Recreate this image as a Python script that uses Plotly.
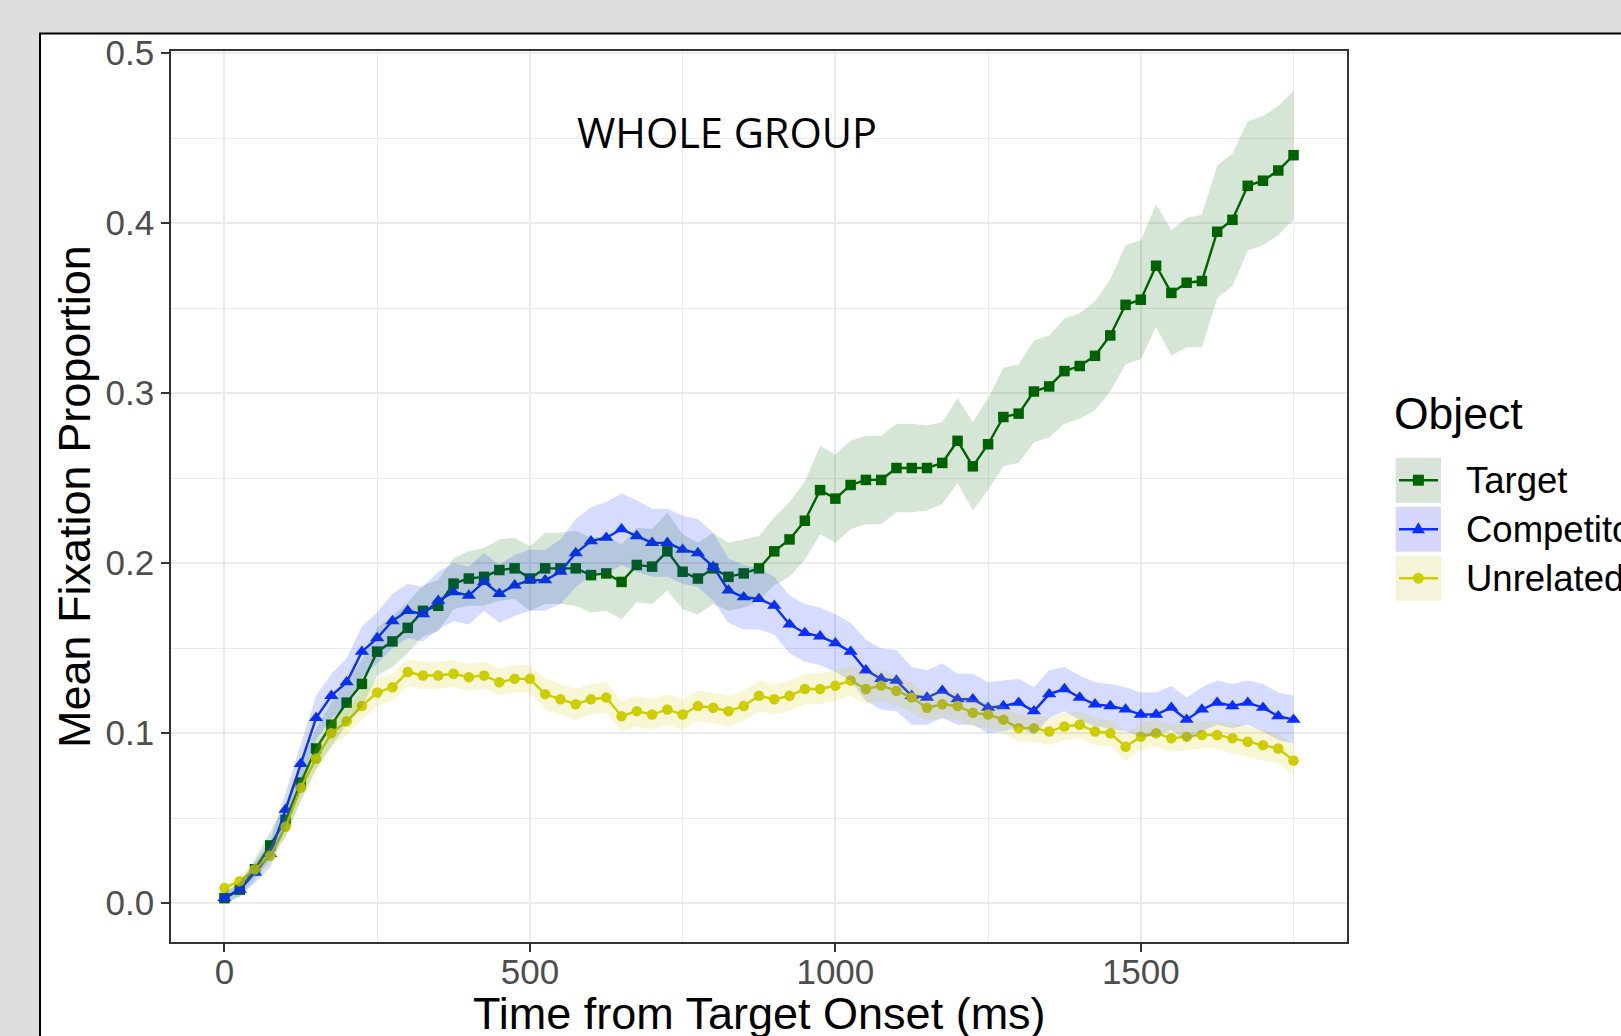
import plotly.graph_objects as go

# ---------------- data ----------------
time_ms = list(range(0, 1751, 25))

target_mean = [0.003, 0.008, 0.020, 0.034, 0.049, 0.071, 0.091, 0.105, 0.118, 0.129,
               0.148, 0.154, 0.162, 0.172, 0.175, 0.188, 0.191, 0.192, 0.196, 0.197,
               0.191, 0.197, 0.197, 0.197, 0.193, 0.194, 0.189, 0.199, 0.198, 0.207,
               0.195, 0.191, 0.197, 0.192, 0.194, 0.197, 0.207, 0.214, 0.225, 0.243,
               0.238, 0.246, 0.249, 0.249, 0.256, 0.256, 0.256, 0.259, 0.272, 0.257,
               0.270, 0.286, 0.288, 0.301, 0.304, 0.313, 0.316, 0.322, 0.334, 0.352,
               0.355, 0.375, 0.359, 0.365, 0.366, 0.395, 0.402, 0.422, 0.425, 0.431,
               0.440]
target_se = [0.003, 0.004, 0.006, 0.008, 0.010, 0.011, 0.012, 0.013, 0.013, 0.014,
             0.014, 0.015, 0.015, 0.015, 0.015, 0.015, 0.016, 0.017, 0.018, 0.018,
             0.019, 0.021, 0.021, 0.022, 0.022, 0.022, 0.022, 0.022, 0.022, 0.023,
             0.022, 0.021, 0.021, 0.020, 0.020, 0.019, 0.020, 0.022, 0.023, 0.026,
             0.026, 0.026, 0.026, 0.026, 0.026, 0.026, 0.025, 0.024, 0.025, 0.026,
             0.027, 0.029, 0.029, 0.030, 0.030, 0.031, 0.031, 0.032, 0.033, 0.035,
             0.035, 0.036, 0.037, 0.038, 0.039, 0.039, 0.039, 0.038, 0.038, 0.038,
             0.038]

competitor_mean = [0.003, 0.008, 0.018, 0.029, 0.055, 0.082, 0.109, 0.122, 0.130, 0.148,
                   0.156, 0.166, 0.172, 0.170, 0.178, 0.183, 0.181, 0.189, 0.182, 0.187,
                   0.190, 0.190, 0.195, 0.206, 0.213, 0.215, 0.220, 0.216, 0.212, 0.212,
                   0.208, 0.206, 0.198, 0.184, 0.180, 0.179, 0.175, 0.164, 0.159, 0.157,
                   0.153, 0.148, 0.137, 0.132, 0.131, 0.122, 0.121, 0.125, 0.120, 0.120,
                   0.115, 0.116, 0.118, 0.113, 0.123, 0.126, 0.121, 0.117, 0.116, 0.114,
                   0.111, 0.111, 0.115, 0.108, 0.114, 0.118, 0.116, 0.118, 0.115, 0.110,
                   0.108]
competitor_se = [0.003, 0.004, 0.006, 0.008, 0.010, 0.012, 0.013, 0.013, 0.014, 0.015,
                 0.015, 0.016, 0.016, 0.016, 0.017, 0.017, 0.017, 0.017, 0.017, 0.018,
                 0.018, 0.018, 0.019, 0.020, 0.020, 0.021, 0.021, 0.021, 0.020, 0.020,
                 0.020, 0.020, 0.020, 0.019, 0.019, 0.018, 0.017, 0.017, 0.017, 0.017,
                 0.017, 0.017, 0.018, 0.018, 0.018, 0.017, 0.016, 0.016, 0.015, 0.015,
                 0.015, 0.015, 0.014, 0.014, 0.014, 0.013, 0.013, 0.013, 0.013, 0.013,
                 0.013, 0.013, 0.013, 0.013, 0.013, 0.013, 0.013, 0.013, 0.014, 0.014,
                 0.014]

unrelated_mean = [0.009, 0.013, 0.020, 0.028, 0.045, 0.068, 0.085, 0.100, 0.107, 0.116,
                  0.124, 0.127, 0.136, 0.134, 0.134, 0.135, 0.133, 0.134, 0.130, 0.132,
                  0.132, 0.123, 0.120, 0.117, 0.120, 0.121, 0.110, 0.113, 0.111, 0.114,
                  0.111, 0.116, 0.115, 0.113, 0.116, 0.122, 0.120, 0.122, 0.126, 0.126,
                  0.128, 0.131, 0.126, 0.128, 0.125, 0.121, 0.115, 0.117, 0.116, 0.112,
                  0.111, 0.108, 0.103, 0.103, 0.101, 0.104, 0.105, 0.101, 0.100, 0.092,
                  0.098, 0.100, 0.097, 0.098, 0.099, 0.099, 0.097, 0.095, 0.093, 0.091,
                  0.084]
unrelated_se = [0.002, 0.003, 0.004, 0.005, 0.006, 0.007, 0.007, 0.008, 0.008, 0.008,
                0.008, 0.008, 0.008, 0.008, 0.008, 0.008, 0.008, 0.008, 0.008, 0.008,
                0.008, 0.009, 0.009, 0.009, 0.009, 0.009, 0.009, 0.009, 0.009, 0.009,
                0.009, 0.009, 0.009, 0.009, 0.009, 0.009, 0.009, 0.009, 0.009, 0.009,
                0.009, 0.009, 0.009, 0.009, 0.009, 0.009, 0.008, 0.008, 0.008, 0.008,
                0.008, 0.008, 0.008, 0.008, 0.008, 0.008, 0.008, 0.008, 0.008, 0.008,
                0.008, 0.008, 0.008, 0.008, 0.008, 0.008, 0.009, 0.009, 0.009, 0.009,
                0.009]

series_names = ["Target", "Competitor", "Unrelated"]
x_tick_vals = [0, 500, 1000, 1500]
y_tick_vals = [0.0, 0.1, 0.2, 0.3, 0.4, 0.5]
chart_label = "WHOLE GROUP"
x_title = "Time from Target Onset (ms)"
y_title = "Mean Fixation Proportion"
legend_title = "Object"

# ---------------- styling ----------------
colors = {"Target": "#006400", "Competitor": "#0a2eff", "Unrelated": "#cdcd00"}
fills = {"Target": "rgba(0,100,0,0.16)", "Competitor": "rgba(10,46,255,0.17)",
         "Unrelated": "rgba(205,205,0,0.16)"}
key_fills = {"Target": "#d7e4d7", "Competitor": "#d5d8fc", "Unrelated": "#f4f4d8"}
symbols = {"Target": "square", "Competitor": "triangle-up", "Unrelated": "circle"}
sizes = {"Target": 10.5, "Competitor": 12.5, "Unrelated": 10.5}
means = {"Target": target_mean, "Competitor": competitor_mean, "Unrelated": unrelated_mean}
ses = {"Target": target_se, "Competitor": competitor_se, "Unrelated": unrelated_se}

FONT = "Liberation Sans, Arial, sans-serif"

fig = go.Figure()

# lines + points
for name in series_names:
    fig.add_trace(go.Scatter(
        x=time_ms, y=means[name], mode="lines+markers", name=name,
        line=dict(color=colors[name], width=2.4),
        marker=dict(symbol=symbols[name], size=sizes[name], color=colors[name],
                    line=dict(width=0)),
        showlegend=False, hoverinfo="x+y+name"))

# ribbons (drawn on top, semi-transparent)
for name in series_names:
    m, s = means[name], ses[name]
    upper = [a + b for a, b in zip(m, s)]
    lower = [a - b for a, b in zip(m, s)]
    fig.add_trace(go.Scatter(
        x=time_ms + time_ms[::-1], y=upper + lower[::-1],
        mode="lines", fill="toself", fillcolor=fills[name],
        line=dict(width=0, color=fills[name]), showlegend=False, hoverinfo="skip"))

# ---------------- layout geometry ----------------
W, H = 1621, 1036
L, R, T, B = 171, 274, 51, 94
pw, ph = W - L - R, H - T - B


def px_x(px):
    return (px - L) / pw


def px_y(py):
    return (H - B - py) / ph


shapes = []
# white panel with black border over a grey background
shapes.append(dict(type="rect", xref="paper", yref="paper",
                   x0=px_x(40), x1=px_x(1700), y0=px_y(1100), y1=px_y(33.5),
                   fillcolor="white", line=dict(color="black", width=2), layer="below"))

annotations = []
annotations.append(dict(text=chart_label, x=822, y=0.4534, xref="x", yref="y",
                        showarrow=False, font=dict(family="Open Sans, sans-serif", size=41.5,
                                                   color="black")))
annotations.append(dict(text=x_title, x=0.5, y=px_y(1013), xref="paper", yref="paper",
                        showarrow=False, yanchor="middle",
                        font=dict(family=FONT, size=45, color="black")))
annotations.append(dict(text=y_title, x=px_x(74.5), y=0.5, xref="paper", yref="paper",
                        showarrow=False, textangle=-90, xanchor="center",
                        font=dict(family=FONT, size=45, color="black")))
annotations.append(dict(text=legend_title, x=px_x(1392), y=px_y(413), xref="paper",
                        yref="paper", showarrow=False, xanchor="left", yanchor="middle",
                        font=dict(family=FONT, size=44.5, color="black")))

# manual legend with ribbon-coloured key boxes
row_top = [457.7, 506.7, 555.7]
for i, name in enumerate(series_names):
    y0p, y1p = row_top[i], row_top[i] + 45
    cy = (y0p + y1p) / 2
    shapes.append(dict(type="rect", xref="paper", yref="paper",
                       x0=px_x(1395.7), x1=px_x(1441), y0=px_y(y1p), y1=px_y(y0p),
                       fillcolor=key_fills[name], line=dict(width=0), layer="above"))
    shapes.append(dict(type="line", xref="paper", yref="paper",
                       x0=px_x(1399), x1=px_x(1438), y0=px_y(cy), y1=px_y(cy),
                       line=dict(color=colors[name], width=2.4), layer="above"))
    cx = px_x(1418.4)
    cyp = px_y(cy)
    if name == "Target":
        shapes.append(dict(type="rect", xref="paper", yref="paper", xsizemode="pixel",
                           ysizemode="pixel", xanchor=cx, yanchor=cyp, x0=-5.5, x1=5.5,
                           y0=-5.5, y1=5.5, fillcolor=colors[name], line=dict(width=0),
                           layer="above"))
    elif name == "Competitor":
        shapes.append(dict(type="path", xref="paper", yref="paper", xsizemode="pixel",
                           ysizemode="pixel", xanchor=cx, yanchor=cyp,
                           path="M -6.5 -4 L 6.5 -4 L 0 7 Z", fillcolor=colors[name],
                           line=dict(width=0), layer="above"))
    else:
        shapes.append(dict(type="circle", xref="paper", yref="paper", xsizemode="pixel",
                           ysizemode="pixel", xanchor=cx, yanchor=cyp, x0=-5.5, x1=5.5,
                           y0=-5.5, y1=5.5, fillcolor=colors[name], line=dict(width=0),
                           layer="above"))
    annotations.append(dict(text=name, x=px_x(1464), y=px_y(cy), xref="paper",
                            yref="paper", showarrow=False, xanchor="left",
                            yanchor="middle", font=dict(family=FONT, size=36.5,
                                                        color="black")))

axis_common = dict(showline=True, mirror=True, linecolor="#333333", linewidth=1.5,
                   ticks="outside", ticklen=8, tickwidth=2, tickcolor="#333333",
                   showgrid=True, gridcolor="#ebebeb", gridwidth=2.2, zeroline=False,
                   tickfont=dict(family=FONT, size=35, color="#4d4d4d"))

fig.update_layout(
    width=W, height=H,
    margin=dict(l=L, r=R, t=T, b=B, autoexpand=False),
    paper_bgcolor="#dddddd", plot_bgcolor="white",
    showlegend=False,
    shapes=shapes, annotations=annotations,
    xaxis=dict(range=[-87.5, 1837.5], tickvals=x_tick_vals,
               ticktext=[str(v) for v in x_tick_vals], ticklabelstandoff=-10,
               minor=dict(tickvals=[250, 750, 1250, 1750], showgrid=True,
                          gridcolor="#ebebeb", gridwidth=1.1, ticks=""),
               **axis_common),
    yaxis=dict(range=[-0.0228, 0.5013], tickvals=y_tick_vals,
               ticktext=[f"{v:.1f}" for v in y_tick_vals],
               minor=dict(tickvals=[0.05, 0.15, 0.25, 0.35, 0.45], showgrid=True,
                          gridcolor="#ebebeb", gridwidth=1.1, ticks=""),
               **axis_common),
)

fig.write_html("out.html")
